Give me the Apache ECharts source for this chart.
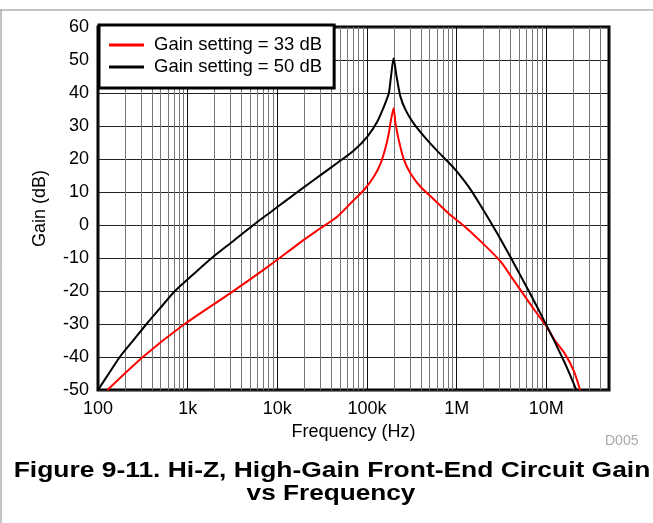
<!DOCTYPE html>
<html>
<head>
<meta charset="utf-8">
<script src="https://cdn.jsdelivr.net/npm/echarts@6/dist/echarts.min.js"></script>
<style>
html, body { margin: 0; padding: 0; background: #fff; }
#graph { width: 653px; height: 523px; }
</style>
</head>
<body>
<div id="graph"></div>
<script>
// values
const seriesNames = ['Gain setting = 33 dB', 'Gain setting = 50 dB'];

const freq33 = [127, 319, 893, 2970, 7000, 13900, 19700, 30300, 46500, 71400, 92500, 119000, 142000, 162000,
  175000, 185000, 198000, 208000, 226000, 255000, 306000, 395000, 565000, 850000, 1200000, 2000000,
  3100000, 4000000, 5000000, 7300000, 9800000, 12300000, 16000000, 20400000, 23800000];
const gain33 = [-50, -39.9, -30.3, -20.7, -13.6, -7.6, -4.5, -1.0, 2.5, 7.6, 10.6, 14.6, 18.7, 23.7,
  27.8, 31.8, 35.4, 30.8, 25.8, 20.2, 15.6, 11.6, 7.6, 3.0, -0.2, -5.8,
  -11.1, -15.4, -19.2, -25.6, -30.3, -34.8, -38.9, -44.4, -50];

const freq50 = [100, 135, 175, 250, 348, 500, 722, 1150, 1855, 3100, 5410, 8300, 12900,
  19700, 30300, 46500, 71400, 101000, 130000, 154000, 175000, 185000, 198000, 214000, 236000, 270000,
  331000, 435000, 600000, 850000, 1020000, 1450000, 2030000, 2600000, 3100000, 4000000, 5000000,
  6200000, 7950000, 9800000, 12300000, 14600000, 17200000, 21500000];
const gain50 = [-50, -44.6, -40.0, -34.8, -30.0, -25.0, -20.0, -15.0, -10.0, -5.2, 0, 3.8, 7.7,
  11.4, 15.1, 18.8, 22.6, 26.8, 31.3, 35.8, 39.9, 44.9, 50.5, 44.9, 38.9, 34.8,
  30.8, 26.8, 22.6, 18.4, 16.0, 10.5, 4.1, -0.8, -4.4, -9.8, -14.7,
  -19.4, -25.0, -29.8, -35.2, -39.4, -43.6, -49.8];

const xMajorTicks = [100, 1e3, 1e4, 1e5, 1e6, 1e7];
const xTickLabels = ['100', '1k', '10k', '100k', '1M', '10M'];
const xMin = 100, xMax = 5e7;
const yMin = -50, yMax = 60, yStep = 10;

const font = 'Liberation Sans, Arial, sans-serif';

// minor grid: 2..9 of each decade
let minorLines = [];
for (let d = xMin; d < xMax; d *= 10) {
  for (let k = 2; k <= 9; k++) {
    if (d * k < xMax) minorLines.push({xAxis: d * k});
  }
}

function pairs(xs, ys) {
  return xs.map((x, i) => [x, ys[i]]);
}

let myChart = echarts.init(document.getElementById('graph'));
myChart.setOption({
  animation: false,
  backgroundColor: '#fff',
  grid: {
    left: 98, right: 44, top: 27, bottom: 133,
    show: true, borderColor: '#000', borderWidth: 3
  },
  legend: {
    left: 99, top: 25, z: 10,
    orient: 'vertical',
    backgroundColor: '#fff',
    borderColor: '#000',
    borderWidth: 3,
    padding: [10, 12, 11, 10],
    itemWidth: 35, itemHeight: 3, itemGap: 2,
    icon: 'rect',
    textStyle: {fontFamily: font, fontSize: 18.5, lineHeight: 20, color: '#000', padding: [0, 0, 0, 5]},
    data: seriesNames
  },
  xAxis: {
    type: 'log', logBase: 10, min: xMin, max: xMax,
    name: 'Frequency (Hz)', nameLocation: 'middle', nameGap: 32,
    nameTextStyle: {fontFamily: font, fontSize: 18, color: '#000'},
    axisLine: {show: false},
    axisTick: {show: false},
    axisLabel: {
      fontFamily: font, fontSize: 18, color: '#000', margin: 10,
      formatter: function (v) {
        let i = xMajorTicks.findIndex(m => Math.abs(Math.log10(m) - Math.log10(v)) < 1e-6);
        return i >= 0 ? xTickLabels[i] : '';
      }
    },
    splitLine: {show: true, lineStyle: {color: '#111', width: 1}}
  },
  yAxis: {
    type: 'value', min: yMin, max: yMax, interval: yStep,
    name: 'Gain (dB)', nameLocation: 'middle', nameGap: 49,
    nameTextStyle: {fontFamily: font, fontSize: 18, color: '#000'},
    axisLine: {show: false},
    axisTick: {show: false},
    axisLabel: {fontFamily: font, fontSize: 18, color: '#000', margin: 9},
    splitLine: {show: true, lineStyle: {color: '#222', width: 1}}
  },
  series: [
    {
      name: 'minor',
      type: 'line',
      data: [],
      z: 1,
      silent: true,
      markLine: {
        z: 1,
        silent: true,
        symbol: 'none',
        label: {show: false},
        lineStyle: {color: '#777', width: 1, type: 'solid'},
        data: minorLines
      }
    },
    {
      name: seriesNames[0],
      type: 'line',
      symbol: 'none',
      smooth: 0.25,
      z: 3,
      lineStyle: {color: '#ff0000', width: 2},
      itemStyle: {color: '#ff0000'},
      data: pairs(freq33, gain33)
    },
    {
      name: seriesNames[1],
      type: 'line',
      symbol: 'none',
      smooth: 0.25,
      z: 3,
      lineStyle: {color: '#000', width: 2},
      itemStyle: {color: '#000'},
      data: pairs(freq50, gain50)
    }
  ],
  graphic: [
    {type: 'line', shape: {x1: 0, y1: 10, x2: 653, y2: 10}, style: {stroke: '#888', lineWidth: 1}},
    {type: 'line', shape: {x1: 1, y1: 10, x2: 1, y2: 523}, style: {stroke: '#888', lineWidth: 1}},
    {type: 'text', left: 605, top: 434, style: {text: 'D005', fill: '#aaa', font: '14px ' + font}},
    {type: 'text', x: 332, y: 470.5, scaleX: 1.2, style: {text: 'Figure 9-11. Hi-Z, High-Gain Front-End Circuit Gain',
      fill: '#000', font: 'bold 22px ' + font, textAlign: 'center', textVerticalAlign: 'middle'}},
    {type: 'text', x: 331, y: 493.5, scaleX: 1.19, style: {text: 'vs Frequency',
      fill: '#000', font: 'bold 22px ' + font, textAlign: 'center', textVerticalAlign: 'middle'}}
  ]
});
</script>
</body>
</html>
